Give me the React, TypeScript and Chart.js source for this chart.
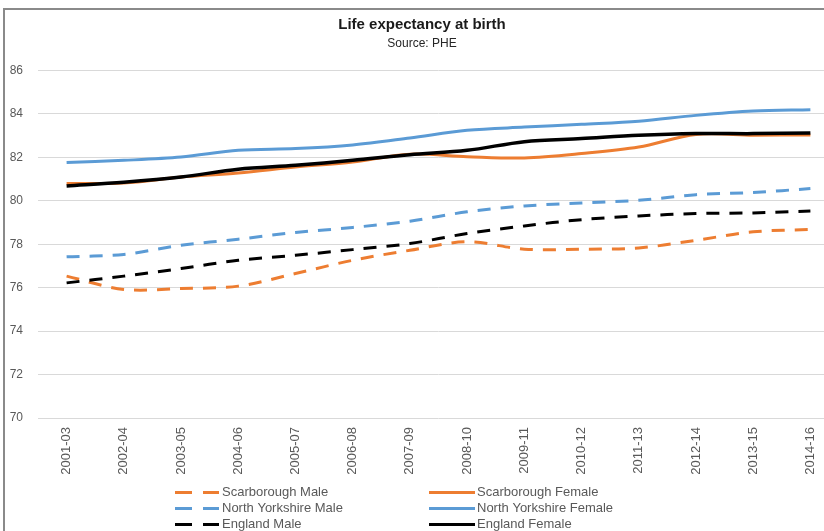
import React, { useEffect, useRef } from "react";
import { Chart, registerables } from "chart.js";

Chart.register(...registerables);

const periods = [
  "2001-03", "2002-04", "2003-05", "2004-06", "2005-07", "2006-08", "2007-09",
  "2008-10", "2009-11", "2010-12", "2011-13", "2012-14", "2013-15", "2014-16",
];

const scarboroughMale = [76.53, 75.92, 75.96, 76.07, 76.65, 77.26, 77.72, 78.11, 77.77, 77.77, 77.83, 78.18, 78.57, 78.68];
const scarboroughFemale = [80.79, 80.82, 81.09, 81.28, 81.55, 81.78, 82.14, 82.03, 81.97, 82.17, 82.47, 83.05, 83.02, 83.03];
const northYorkshireMale = [77.42, 77.53, 77.95, 78.23, 78.54, 78.77, 79.06, 79.49, 79.76, 79.9, 80.02, 80.28, 80.38, 80.56];
const northYorkshireFemale = [81.76, 81.86, 82.01, 82.32, 82.4, 82.57, 82.89, 83.24, 83.39, 83.52, 83.66, 83.93, 84.13, 84.19];
const englandMale = [76.22, 76.53, 76.88, 77.26, 77.49, 77.75, 78.03, 78.49, 78.84, 79.13, 79.3, 79.41, 79.44, 79.53];
const englandFemale = [80.68, 80.85, 81.09, 81.45, 81.63, 81.86, 82.12, 82.32, 82.72, 82.86, 83.01, 83.09, 83.09, 83.12];

const seriesLabels = [
  "Scarborough Male", "Scarborough Female",
  "North Yorkshire Male", "North Yorkshire Female",
  "England Male", "England Female",
];

const yTicks = { min: 70, max: 86, step: 2 };

const ORANGE = "#ED7D31";
const BLUE = "#5B9BD5";
const BLACK = "#000000";
const FONT = "'Liberation Sans', Arial, sans-serif";

const gridLegend = {
  id: "gridLegend",
  afterDraw(chart: any) {
    const ctx = chart.ctx;
    ctx.save();
    chart.data.datasets.forEach((ds: any, i: number) => {
      const col = i % 2;
      const row = Math.floor(i / 2);
      const y = 492.5 + row * 16;
      const x0 = col === 0 ? 170 : 424;
      const x1 = col === 0 ? 214 : 470;
      const tx = col === 0 ? 217 : 472;
      ctx.strokeStyle = ds.borderColor;
      ctx.lineWidth = 3;
      ctx.lineCap = "butt";
      ctx.setLineDash(ds.borderDash && ds.borderDash.length ? [17, 11] : []);
      ctx.beginPath();
      ctx.moveTo(x0, y);
      ctx.lineTo(x1, y);
      ctx.stroke();
      ctx.setLineDash([]);
      ctx.fillStyle = "#595959";
      ctx.font = "13px " + FONT;
      ctx.textBaseline = "middle";
      ctx.textAlign = "left";
      ctx.fillText(ds.label, tx, y);
    });
    ctx.restore();
  },
};

export default function App() {
  const ref = useRef<HTMLCanvasElement>(null);

  useEffect(() => {
    Chart.defaults.font.family = FONT;
    const seriesValues = [scarboroughMale, scarboroughFemale, northYorkshireMale, northYorkshireFemale, englandMale, englandFemale];
    const colors = [ORANGE, ORANGE, BLUE, BLUE, BLACK, BLACK];
    const datasets = seriesValues.map((vals, i) => ({
      label: seriesLabels[i],
      data: vals,
      borderColor: colors[i],
      backgroundColor: colors[i],
      borderWidth: i === 5 ? 3.5 : 3,
      borderDash: i % 2 === 0 ? [13, 10] : [],
      pointRadius: 0,
      tension: 0.33,
      fill: false,
      order: 5 - i,
    }));

    const chart = new Chart(ref.current!, {
      type: "line",
      data: { labels: periods, datasets },
      plugins: [gridLegend],
      options: {
        animation: false,
        responsive: true,
        maintainAspectRatio: false,
        layout: { padding: { top: 0, bottom: 0, left: 0, right: 12 } },
        plugins: {
          legend: { display: false },
          tooltip: { enabled: false },
          title: {
            display: true,
            text: "Life expectancy at birth",
            color: "#1a1a1a",
            font: { size: 15, weight: "bold", family: FONT },
            padding: { top: 16, bottom: 2 },
          },
          subtitle: {
            display: true,
            text: "Source: PHE",
            color: "#262626",
            font: { size: 12, family: FONT },
            padding: { top: 0, bottom: 20 },
          },
        },
        scales: {
          x: {
            offset: true,
            grid: { display: false, drawTicks: false, offset: true },
            border: { display: false },
            afterFit: (scale: any) => { scale.height = 113; },
            ticks: {
              autoSkip: false,
              minRotation: 90,
              maxRotation: 90,
              padding: 9,
              color: "#595959",
              font: { size: 13, family: FONT },
            },
          },
          y: {
            min: yTicks.min,
            max: yTicks.max,
            grid: { color: "#d9d9d9", lineWidth: 1, drawTicks: false },
            border: { display: false },
            afterFit: (scale: any) => { scale.width = 33; },
            ticks: {
              stepSize: yTicks.step,
              padding: 15,
              color: "#595959",
              font: { size: 12, family: FONT },
            },
          },
        },
      },
    });
    return () => chart.destroy();
  }, []);

  return (
    <div style={{ position: "fixed", left: 0, top: 0, width: 824, height: 531, overflow: "hidden", background: "#fff" }}>
      <div style={{ position: "absolute", left: 3, top: 8, width: 900, height: 600, borderLeft: "2px solid #8a8a8a", borderTop: "2px solid #8a8a8a" }} />
      <div style={{ position: "absolute", left: 5, top: 0, width: 846, height: 531 }}>
        <canvas ref={ref} />
      </div>
    </div>
  );
}
